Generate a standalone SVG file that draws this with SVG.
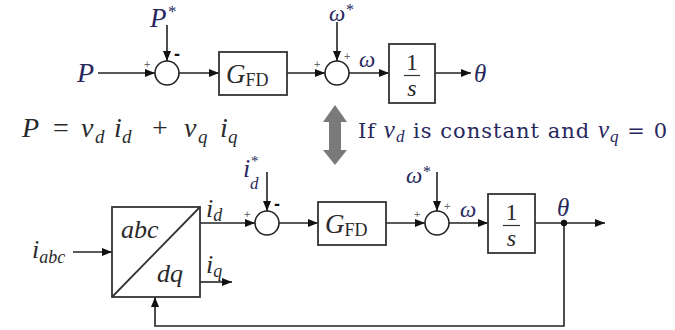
<svg xmlns="http://www.w3.org/2000/svg" width="675" height="330" viewBox="0 0 675 330">
<defs>
<marker id="ah" viewBox="0 0 10 8" refX="10" refY="4" markerWidth="10" markerHeight="8" markerUnits="userSpaceOnUse" orient="auto"><path d="M0,0 L10,4 L0,8 z" fill="#111"/></marker>
<style>
.ln{stroke:#222;stroke-width:1.6;fill:none}
.bx{fill:#fff;stroke:#333;stroke-width:1.8}
.sum{fill:#fff;stroke:#222;stroke-width:1.6}
.nv{font-family:"Liberation Serif",serif;font-style:italic;fill:#27275e}
.st{font-family:"Liberation Serif",serif;font-style:normal;fill:#27275e}
.mk{font-family:"Liberation Serif",serif;font-style:italic;fill:#2a2a2a}
.rm{font-family:"Liberation Serif",serif;font-style:normal;fill:#2a2a2a}
.pl{font-family:"Liberation Sans",sans-serif;font-size:11px;fill:#666}
.mi{font-family:"Liberation Sans",sans-serif;font-size:18px;font-weight:bold;fill:#111}
</style>
</defs>
<rect width="675" height="330" fill="#fff"/>

<g id="connectors">
<path class="ln" d="M98,73 H155" marker-end="url(#ah)"/>
<path class="ln" d="M167,25 V61" marker-end="url(#ah)"/>
<path class="ln" d="M179,73 H219" marker-end="url(#ah)"/>
<path class="ln" d="M287,73 H325" marker-end="url(#ah)"/>
<path class="ln" d="M337,22 V61" marker-end="url(#ah)"/>
<path class="ln" d="M349,73 H389" marker-end="url(#ah)"/>
<path class="ln" d="M435,73 H471" marker-end="url(#ah)"/>

<path class="ln" d="M73,252 H112" marker-end="url(#ah)"/>
<path class="ln" d="M200,223 H255" marker-end="url(#ah)"/>
<path class="ln" d="M200,282 H232" marker-end="url(#ah)"/>
<path class="ln" d="M267,172 V211" marker-end="url(#ah)"/>
<path class="ln" d="M279,223 H318" marker-end="url(#ah)"/>
<path class="ln" d="M386,223 H425" marker-end="url(#ah)"/>
<path class="ln" d="M437,172 V211" marker-end="url(#ah)"/>
<path class="ln" d="M449,223 H488" marker-end="url(#ah)"/>
<path class="ln" d="M535,223 H605" marker-end="url(#ah)"/>
<path class="ln" d="M564,223 V326 H155 V297" marker-end="url(#ah)"/>
<circle cx="564" cy="223" r="3.2" fill="#111"/>
</g>

<!-- top row -->
<g id="P-in"><text class="nv" x="77" y="82" font-size="28">P</text></g>
<g id="Pref">
<text class="nv" x="150" y="27" font-size="27">P</text>
<text class="st" x="168" y="17" font-size="17">*</text>
</g>
<g id="sum1">
<circle class="sum" cx="167" cy="73" r="12"/>
<text class="pl" x="144" y="68">+</text>
<text class="mi" x="174" y="60">-</text>
</g>
<g id="gfd1">
<rect class="bx" x="219" y="52" width="68" height="43"/>
<text class="mk" x="226" y="83" font-size="27">G<tspan class="rm" font-size="18" dy="3">FD</tspan></text>
</g>
<g id="wref1">
<text class="nv" x="329" y="21" font-size="23">ω</text>
<text class="st" x="346" y="15" font-size="16">*</text>
</g>
<g id="sum2">
<circle class="sum" cx="337" cy="73" r="12"/>
<text class="pl" x="314" y="68">+</text>
<text class="pl" x="344" y="60">+</text>
</g>
<g id="w1"><text class="nv" x="359" y="67" font-size="23">ω</text></g>
<g id="int1">
<rect class="bx" x="389" y="44" width="46" height="59"/>
<text class="rm" x="412" y="70" font-size="24" text-anchor="middle">1</text>
<line x1="404" y1="75.5" x2="420" y2="75.5" stroke="#333" stroke-width="1.2"/>
<text class="mk" x="412" y="96" font-size="24" text-anchor="middle">s</text>
</g>
<g id="theta1"><text class="nv" x="474" y="82" font-size="25">θ</text></g>

<!-- middle -->
<g id="equation" class="mk" font-size="28" fill="#333">
<text x="22" y="137">P</text>
<text class="rm" x="53" y="137">=</text>
<text x="81" y="137">v</text><text x="95" y="143" font-size="19">d</text>
<text x="114" y="137">i</text><text x="122" y="143" font-size="19">d</text>
<text class="rm" x="152" y="137">+</text>
<text x="184" y="137">v</text><text x="198" y="143" font-size="19">q</text>
<text x="220" y="137">i</text><text x="228" y="143" font-size="19">q</text>
</g>
<g id="dblarrow">
<polygon points="335,105 347,122 341,122 341,150 347,150 335,165 323,150 329,150 329,122 323,122" fill="#7a7a7a"/>
</g>
<g id="condition">
<text x="358" y="138" font-size="21" fill="#27275e" font-family="'DejaVu Serif',serif" textLength="309" lengthAdjust="spacing">If <tspan class="nv" font-size="25">v</tspan><tspan class="nv" font-size="17" dy="4">d</tspan><tspan dy="-4"> is constant and </tspan><tspan class="nv" font-size="25">v</tspan><tspan class="nv" font-size="17" dy="4">q</tspan><tspan dy="-4"> = 0</tspan></text>
</g>

<!-- bottom row -->
<g id="iabc"><text class="mk" x="32" y="258" font-size="26">i<tspan font-size="18" dy="5">abc</tspan></text></g>
<g id="abc-dq">
<rect class="bx" x="112" y="207" width="88" height="90"/>
<line x1="112" y1="297" x2="200" y2="207" stroke="#333" stroke-width="1.8"/>
<text class="mk" x="121" y="238" font-size="26">abc</text>
<text class="mk" x="157" y="282" font-size="26">dq</text>
</g>
<g id="id-label"><text class="mk" x="206" y="217" font-size="26">i<tspan font-size="18" dy="4">d</tspan></text></g>
<g id="iq-label"><text class="mk" x="206" y="273" font-size="26">i<tspan font-size="18" dy="4">q</tspan></text></g>
<g id="idref">
<text class="nv" x="243" y="177" font-size="26">i</text>
<text class="st" x="251" y="166" font-size="15">*</text>
<text class="nv" x="250" y="189" font-size="17">d</text>
</g>
<g id="sum3">
<circle class="sum" cx="267" cy="223" r="12"/>
<text class="pl" x="244" y="218">+</text>
<text class="mi" x="274" y="210">-</text>
</g>
<g id="gfd2">
<rect class="bx" x="318" y="202" width="68" height="43"/>
<text class="mk" x="325" y="233" font-size="27">G<tspan class="rm" font-size="18" dy="3">FD</tspan></text>
</g>
<g id="wref2">
<text class="nv" x="406" y="183" font-size="23">ω</text>
<text class="st" x="423" y="177" font-size="16">*</text>
</g>
<g id="sum4">
<circle class="sum" cx="437" cy="223" r="12"/>
<text class="pl" x="414" y="218">+</text>
<text class="pl" x="444" y="210">+</text>
</g>
<g id="w2"><text class="nv" x="460" y="217" font-size="23">ω</text></g>
<g id="int2">
<rect class="bx" x="488" y="194" width="47" height="59"/>
<text class="rm" x="511.5" y="220" font-size="24" text-anchor="middle">1</text>
<line x1="503" y1="225.5" x2="520" y2="225.5" stroke="#333" stroke-width="1.2"/>
<text class="mk" x="511.5" y="246" font-size="24" text-anchor="middle">s</text>
</g>
<g id="theta2"><text class="nv" x="557" y="216" font-size="25">θ</text></g>
</svg>
